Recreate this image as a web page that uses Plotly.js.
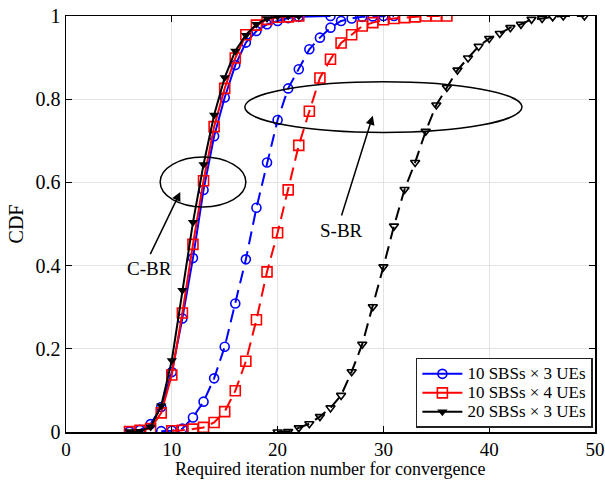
<!DOCTYPE html>
<html>
<head>
<meta charset="utf-8">
<script src="https://cdn.plot.ly/plotly-3.0.1.min.js"></script>
<style>html,body{margin:0;padding:0;background:#fff;}#chart{width:605px;height:482px;}</style>
</head>
<body>
<div id="chart"></div>
<script>
// C-BR (solid) curves
const cbrX = [6,7,8,9,10,11,12,13,14,15,16,17,18,19,20,21,22];
const cbrBlueX = [6,7,8,9,10,11,12,13,14,15,16,17,18,19,20,21,22,25];
const cbrBlueY = [0.001,0.005,0.019,0.060,0.144,0.273,0.418,0.582,0.711,0.804,0.882,0.936,0.964,0.980,0.988,0.995,0.998,1.0];
const cbrRedY = [0.001,0.004,0.008,0.046,0.137,0.286,0.451,0.604,0.734,0.826,0.899,0.955,0.978,0.992,0.997,0.998,1.0];
const cbrBlackY = [0.001,0.002,0.012,0.063,0.172,0.341,0.504,0.643,0.762,0.852,0.916,0.954,0.980,0.994,0.999,1.0,1.0];

// S-BR (dashed) curves
const sbrBlueX = [9,10,11,12,13,14,15,16,17,18,19,20,21,22,23,24,25,26,27,28,29,30,31];
const sbrBlueY = [0.002,0.003,0.008,0.035,0.073,0.129,0.205,0.309,0.415,0.539,0.648,0.750,0.826,0.872,0.920,0.948,0.972,0.988,0.994,0.998,0.999,1.0,1.0];
const sbrRedX = [10,11,12,13,14,15,16,17,18,19,20,21,22,23,24,25,26,27,28,29,30,31,32,33,34,35,36];
const sbrRedY = [0.003,0.004,0.007,0.011,0.023,0.049,0.099,0.170,0.270,0.385,0.479,0.582,0.689,0.771,0.851,0.896,0.935,0.955,0.976,0.984,0.991,0.994,0.996,0.998,1.0,1.0,1.0];
const sbrBlackX = [20,21,22,23,24,25,26,27,28,29,30,31,32,33,34,35,36,37,38,39,40,41,42,43,44,45,46,47,49];
const sbrBlackY = [0.0,0.001,0.010,0.020,0.037,0.058,0.088,0.145,0.211,0.301,0.397,0.495,0.583,0.648,0.723,0.786,0.828,0.870,0.899,0.927,0.946,0.958,0.972,0.980,0.992,0.994,0.998,1.0,1.0];

const legendNames = ['10 SBSs \u00d7 3 UEs','10 SBSs \u00d7 4 UEs','20 SBSs \u00d7 3 UEs'];
const xTicks = [0,10,20,30,40,50];
const yTicks = [0,0.2,0.4,0.6,0.8,1];
const yTickText = ['0','0.2','0.4','0.6','0.8','1'];
const xTitle = 'Required iteration number for convergence';

const FONT = 'Liberation Serif, Times New Roman, serif';
const DASH = '13px,7px';
const big = s => '<span style="font-size:17px">' + s + '</span>';

const traces = [
  {x: cbrBlueX, y: cbrBlueY, name: big(legendNames[0]), mode: 'lines+markers',
   line: {color: '#0000ff', width: 2}, marker: {symbol: 'circle-open', size: 9, color: '#0000ff', line: {width: 1.6}}},
  {x: cbrX, y: cbrRedY, name: big(legendNames[1]), mode: 'lines+markers',
   line: {color: '#ff0000', width: 2}, marker: {symbol: 'square-open', size: 10, color: '#ff0000', line: {width: 1.6}}},
  {x: cbrX, y: cbrBlackY, name: big(legendNames[2]), mode: 'lines+markers',
   line: {color: '#000000', width: 2}, marker: {symbol: 'triangle-down', size: 9, color: '#000000'}},
  {x: sbrBlueX, y: sbrBlueY, showlegend: false, mode: 'lines+markers',
   line: {color: '#0000ff', width: 2, dash: DASH}, marker: {symbol: 'circle-open', size: 9, color: '#0000ff', line: {width: 1.6}}},
  {x: sbrRedX, y: sbrRedY, showlegend: false, mode: 'lines+markers',
   line: {color: '#ff0000', width: 2, dash: DASH}, marker: {symbol: 'square-open', size: 10, color: '#ff0000', line: {width: 1.6}}},
  {x: sbrBlackX, y: sbrBlackY, showlegend: false, mode: 'lines+markers',
   line: {color: '#000000', width: 2, dash: DASH}, marker: {symbol: 'triangle-down-open', size: 8, color: '#000000', line: {width: 1.6}}}
];

const layout = {
  width: 605, height: 482,
  margin: {l: 66, r: 10, t: 16, b: 50},
  paper_bgcolor: '#ffffff', plot_bgcolor: '#ffffff',
  font: {family: FONT, size: 19, color: '#000'},
  showlegend: true,
  xaxis: {
    range: [0, 50], tickvals: xTicks, ticktext: xTicks.map(String),
    showgrid: true, gridcolor: '#e3e3e3', gridwidth: 1.3,
    zeroline: false, showline: true, linecolor: '#000', linewidth: 1.5, mirror: 'ticks',
    ticks: 'inside', ticklen: 6, tickcolor: '#000', tickwidth: 1,
    tickfont: {family: FONT, size: 19}, ticklabeloverflow: 'allow'
  },
  yaxis: {
    range: [0, 1], tickvals: yTicks, ticktext: yTickText,
    showgrid: true, gridcolor: '#e3e3e3', gridwidth: 1.3,
    zeroline: false, showline: true, linecolor: '#000', linewidth: 1.5, mirror: 'ticks',
    ticks: 'inside', ticklen: 6, tickcolor: '#000', tickwidth: 1,
    tickfont: {family: FONT, size: 20}, ticklabeloverflow: 'allow',
    title: {text: 'CDF', font: {family: FONT, size: 20}, standoff: 6}
  },
  legend: {
    x: 0.996, xanchor: 'right', y: 0.01, yanchor: 'bottom',
    bgcolor: '#ffffff', bordercolor: '#222', borderwidth: 1.5,
    font: {family: FONT, size: 12}, itemwidth: 40, tracegroupgap: 0
  },
  shapes: [
    {type: 'circle', xref: 'x', yref: 'y', x0: 8.9, x1: 17.0, y0: 0.541, y1: 0.661, line: {color: '#000', width: 1.5}},
    {type: 'circle', xref: 'x', yref: 'y', x0: 16.9, x1: 43.1, y0: 0.720, y1: 0.842, line: {color: '#000', width: 1.5}}
  ],
  annotations: [
    {x: 0.5, y: 0, xref: 'paper', yref: 'paper', xanchor: 'center', yanchor: 'middle', yshift: -37, borderpad: 0,
     text: xTitle, showarrow: false, font: {family: FONT, size: 18, color: '#000'}},
    {x: 10.8, y: 0.577, ax: 7.9, ay: 0.424, xref: 'x', yref: 'y', axref: 'x', ayref: 'y',
     text: '', showarrow: true, arrowhead: 2, arrowsize: 1.2, arrowwidth: 1.5, arrowcolor: '#000', standoff: 0, startstandoff: 0},
    {x: 29.0, y: 0.760, ax: 26.0, ay: 0.517, xref: 'x', yref: 'y', axref: 'x', ayref: 'y',
     text: '', showarrow: true, arrowhead: 2, arrowsize: 1.2, arrowwidth: 1.5, arrowcolor: '#000', standoff: 0, startstandoff: 0},
    {x: 7.9, y: 0.393, xref: 'x', yref: 'y', text: 'C-BR', showarrow: false, font: {family: FONT, size: 19, color: '#000'}},
    {x: 26.0, y: 0.484, xref: 'x', yref: 'y', text: 'S-BR', showarrow: false, font: {family: FONT, size: 19, color: '#000'}}
  ]
};

Plotly.newPlot('chart', traces, layout, {displayModeBar: false, staticPlot: true});
</script>
</body>
</html>
